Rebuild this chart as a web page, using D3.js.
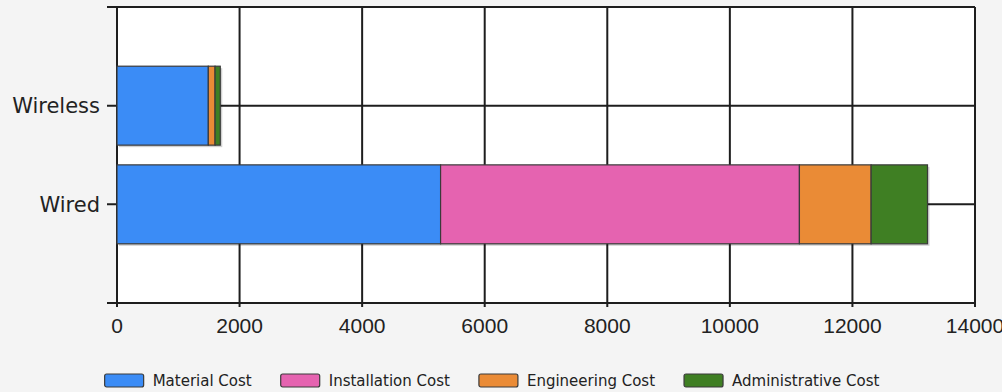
<!DOCTYPE html>
<html>
<head>
<meta charset="utf-8">
<script src="https://cdn.jsdelivr.net/npm/d3@7"></script>
<style>
  body { margin:0; background:#f4f4f4; }
  svg { display:block; }
</style>
</head>
<body>
<div id="chart"></div>
<script>
// values
var categories = ["Wired", "Wireless"];
var catPos = [1, 2];
var seriesNames = ["Material Cost", "Installation Cost", "Engineering Cost", "Administrative Cost"];
var material = [5280, 1490];
var installation = [5855, 0];
var engineering = [1170, 110];
var administrative = [920, 85];
var xTicks = [0, 2000, 4000, 6000, 8000, 10000, 12000, 14000];
var colors = ["#3b8cf6", "#e563b0", "#ea8b36", "#3f7f23"];

var width = 1002, height = 392;
var plotLeft = 117, plotRight = 975, plotTop = 7, plotBottom = 303;

var rows = categories.map(function(c, i) {
    return {cat: c, pos: catPos[i], s0: material[i], s1: installation[i], s2: engineering[i], s3: administrative[i]};
});
var stack = d3.stack().keys(["s0", "s1", "s2", "s3"]);
var layers = stack(rows);

var svg = d3.select('#chart').append('svg')
    .attr('width', width).attr('height', height);

var x = d3.scaleLinear().domain([0, 14000]).range([plotLeft, plotRight]);
var y = d3.scaleLinear().domain([0, 3]).range([plotBottom, plotTop]);

svg.append('rect')
    .attr('x', plotLeft).attr('y', plotTop)
    .attr('width', plotRight - plotLeft).attr('height', plotBottom - plotTop)
    .style('fill', 'white');

// vertical grid
svg.selectAll('line.vg')
    .data(xTicks)
    .enter().append('line')
    .attr('class', 'vg')
    .attr('x1', function(d) { return x(d); })
    .attr('x2', function(d) { return x(d); })
    .attr('y1', plotTop).attr('y2', plotBottom + 4)
    .attr('stroke', '#1e1e1e').attr('stroke-width', 2);

// horizontal grid (incl. top & bottom) with left ticks
svg.selectAll('line.hg')
    .data([0, 1, 2, 3])
    .enter().append('line')
    .attr('class', 'hg')
    .attr('x1', plotLeft - 10).attr('x2', plotRight)
    .attr('y1', function(d) { return y(d); })
    .attr('y2', function(d) { return y(d); })
    .attr('stroke', '#1e1e1e').attr('stroke-width', 2);

// shadow under bars
var shadow = svg.append('g').attr('opacity', 0.18);
rows.forEach(function(r) {
    var total = r.s0 + r.s1 + r.s2 + r.s3;
    shadow.append('rect')
        .attr('x', x(0) + 2)
        .attr('y', y(r.pos + 0.4) + 2)
        .attr('width', x(total) - x(0))
        .attr('height', y(r.pos - 0.4) - y(r.pos + 0.4))
        .style('fill', '#000');
});

svg.selectAll('g.layer')
    .data(layers)
    .enter().append('g')
    .attr('class', 'layer')
    .style('fill', function(d, i) { return colors[i]; })
    .selectAll('rect')
    .data(function(d) { return d.filter(function(p) { return p[1] > p[0]; }); })
    .enter().append('rect')
    .attr('x', function(d) { return x(d[0]); })
    .attr('y', function(d) { return y(d.data.pos + 0.4); })
    .attr('width', function(d) { return x(d[1]) - x(d[0]); })
    .attr('height', function(d) { return y(d.data.pos - 0.4) - y(d.data.pos + 0.4); })
    .attr('stroke', '#3a3a3a').attr('stroke-width', 1.2);

// x tick labels
svg.selectAll('text.xt')
    .data(xTicks)
    .enter().append('text')
    .attr('class', 'xt')
    .attr('x', function(d) { return x(d); })
    .attr('y', 333)
    .attr('text-anchor', 'middle')
    .style('font-family', 'Liberation Sans, Arial, sans-serif')
    .style('font-size', '21px')
    .style('fill', '#222')
    .text(function(d) { return d; });

// category labels
svg.selectAll('text.yt')
    .data(rows)
    .enter().append('text')
    .attr('class', 'yt')
    .attr('x', plotLeft - 17)
    .attr('y', function(d) { return y(d.pos); })
    .attr('dy', '0.36em')
    .attr('text-anchor', 'end')
    .style('font-family', 'DejaVu Sans, sans-serif')
    .style('font-size', '21px')
    .style('fill', '#222')
    .text(function(d) { return d.cat; });

// legend
var legend = svg.append('g');
var lx = 0;
seriesNames.forEach(function(name, i) {
    var g = legend.append('g').attr('transform', 'translate(' + lx + ',0)');
    g.append('rect')
        .attr('x', 0).attr('y', 374)
        .attr('width', 39).attr('height', 13)
        .attr('rx', 2)
        .style('fill', colors[i])
        .attr('stroke', '#3a3a3a').attr('stroke-width', 1.2);
    var t = g.append('text')
        .attr('x', 48).attr('y', 386)
        .style('font-family', 'DejaVu Sans, sans-serif')
        .style('font-size', '15px')
        .style('fill', '#222')
        .text(name);
    lx += 48 + t.node().getComputedTextLength() + 29;
});
var lw = lx - 29;
legend.attr('transform', 'translate(' + (492 - lw / 2) + ',0)');
</script>
</body>
</html>
